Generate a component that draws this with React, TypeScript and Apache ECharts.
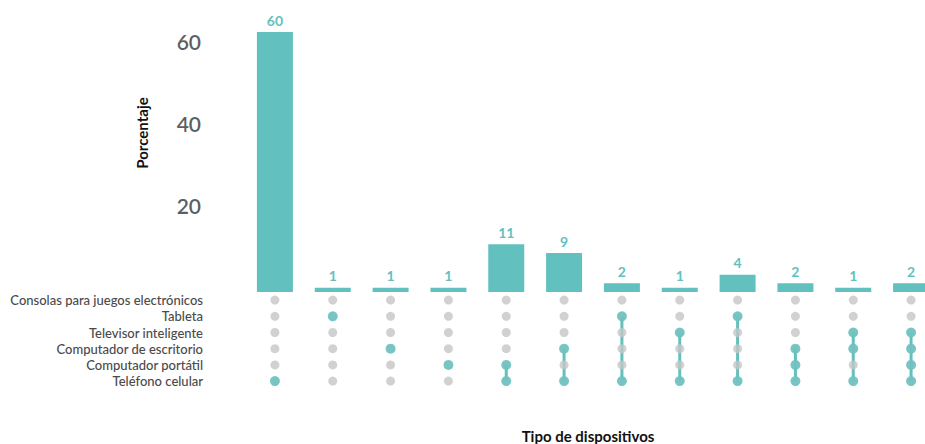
import React, { useEffect, useRef } from "react";
import * as echarts from "echarts";

// Rows of the matrix, top to bottom
const SETS = [
  "Consolas para juegos electrónicos",
  "Tableta",
  "Televisor inteligente",
  "Computador de escritorio",
  "Computador portátil",
  "Teléfono celular",
];

// Device combinations (one per column)
const COMBOS: string[][] = [
  ["Teléfono celular"],
  ["Tableta"],
  ["Computador de escritorio"],
  ["Computador portátil"],
  ["Computador portátil", "Teléfono celular"],
  ["Computador de escritorio", "Teléfono celular"],
  ["Tableta", "Teléfono celular"],
  ["Televisor inteligente", "Teléfono celular"],
  ["Tableta", "Teléfono celular"],
  ["Computador de escritorio", "Computador portátil", "Teléfono celular"],
  ["Televisor inteligente", "Computador de escritorio", "Teléfono celular"],
  ["Televisor inteligente", "Computador de escritorio", "Computador portátil", "Teléfono celular"],
];

const VALUES = [60, 1, 1, 1, 11, 9, 2, 1, 4, 2, 1, 2];
const Y_TICKS = [0, 20, 40, 60];
const Y_TITLE = "Porcentaje";
const X_TITLE = "Tipo de dispositivos";

const TEAL = "#62c1be";
const GREY = "#c6c6c6";
const FONT = "Lato, 'Noto Sans', sans-serif";

export default function App() {
  const ref = useRef<HTMLDivElement>(null);

  useEffect(() => {
    if (!ref.current) return;
    const chart = echarts.init(ref.current, undefined, { renderer: "svg" });

    const comboNames = COMBOS.map((c, i) => `${i + 1}: ${c.join(" & ")}`);
    const greyPts: number[][] = [];
    const activePts: number[][] = [];
    const lines: number[][] = [];
    COMBOS.forEach((combo, ci) => {
      const rows = combo.map((s) => SETS.indexOf(s));
      SETS.forEach((_, ri) => greyPts.push([ci, ri]));
      rows.forEach((ri) => activePts.push([ci, ri]));
      if (rows.length > 1) lines.push([ci, Math.min(...rows), Math.max(...rows)]);
    });

    const left = 246;
    const width = 694;

    chart.setOption({
      animation: false,
      textStyle: { fontFamily: FONT },
      grid: [
        { left, top: 32, width, height: 260 },
        { left, top: 292, width, height: 97.2 },
        { left, top: 41, width, height: 246 },
      ],
      xAxis: [
        { type: "category", gridIndex: 0, data: comboNames, show: false },
        { type: "category", gridIndex: 1, data: comboNames, show: false },
        { type: "value", gridIndex: 2, min: 0, max: 1, show: false },
      ],
      yAxis: [
        { type: "value", gridIndex: 0, min: 0, max: 60, show: false },
        {
          type: "category",
          gridIndex: 1,
          inverse: true,
          data: SETS,
          axisLine: { show: false },
          axisTick: { show: false },
          splitLine: { show: false },
          axisLabel: {
            interval: 0,
            margin: 43,
            fontSize: 13,
            fontWeight: 500,
            color: "#4a4a4a",
            fontFamily: FONT,
          },
        },
        {
          type: "value",
          gridIndex: 2,
          min: Y_TICKS[0],
          max: Y_TICKS[Y_TICKS.length - 1],
          interval: Y_TICKS[1] - Y_TICKS[0],
          axisLine: { show: false },
          axisTick: { show: false },
          splitLine: { show: false },
          axisLabel: {
            margin: 45,
            fontSize: 21,
            fontWeight: 600,
            color: "#5f5f5f",
            fontFamily: FONT,
            formatter: (v: number) => (v === 0 ? "" : String(v)),
          },
        },
      ],
      series: [
        {
          type: "bar",
          xAxisIndex: 0,
          yAxisIndex: 0,
          data: VALUES,
          barWidth: 36,
          itemStyle: { color: TEAL },
          label: {
            show: true,
            position: "top",
            distance: 5,
            color: TEAL,
            fontWeight: "bold",
            fontSize: 14,
            fontFamily: FONT,
          },
        },
        {
          type: "scatter",
          xAxisIndex: 1,
          yAxisIndex: 1,
          data: greyPts,
          symbolSize: 9,
          itemStyle: { color: GREY },
          silent: true,
        },
        {
          type: "custom",
          xAxisIndex: 1,
          yAxisIndex: 1,
          data: lines,
          encode: { x: 0, y: [1, 2] },
          renderItem: (_params: any, api: any) => {
            const p1 = api.coord([api.value(0), api.value(1)]);
            const p2 = api.coord([api.value(0), api.value(2)]);
            return {
              type: "line",
              shape: { x1: p1[0], y1: p1[1], x2: p2[0], y2: p2[1] },
              style: { stroke: TEAL, lineWidth: 3 },
            };
          },
        },
        {
          type: "scatter",
          xAxisIndex: 1,
          yAxisIndex: 1,
          data: activePts,
          symbolSize: 10,
          itemStyle: { color: TEAL },
        },
      ],
      graphic: [
        {
          type: "text",
          x: 142,
          y: 133,
          rotation: Math.PI / 2,
          style: {
            text: Y_TITLE,
            fontSize: 15,
            fontWeight: "bold",
            fill: "#111",
            fontFamily: FONT,
            textAlign: "center",
            textVerticalAlign: "middle",
          },
        },
        {
          type: "text",
          x: 588,
          y: 436,
          style: {
            text: X_TITLE,
            fontSize: 15,
            fontWeight: "bold",
            fill: "#111",
            fontFamily: FONT,
            textAlign: "center",
            textVerticalAlign: "middle",
          },
        },
      ],
    });

    return () => chart.dispose();
  }, []);

  return (
    <div
      style={{
        position: "fixed",
        left: 0,
        top: 0,
        width: 925,
        height: 444,
        overflow: "hidden",
        background: "#fff",
      }}
    >
      <div ref={ref} style={{ width: 960, height: 444 }} />
    </div>
  );
}
